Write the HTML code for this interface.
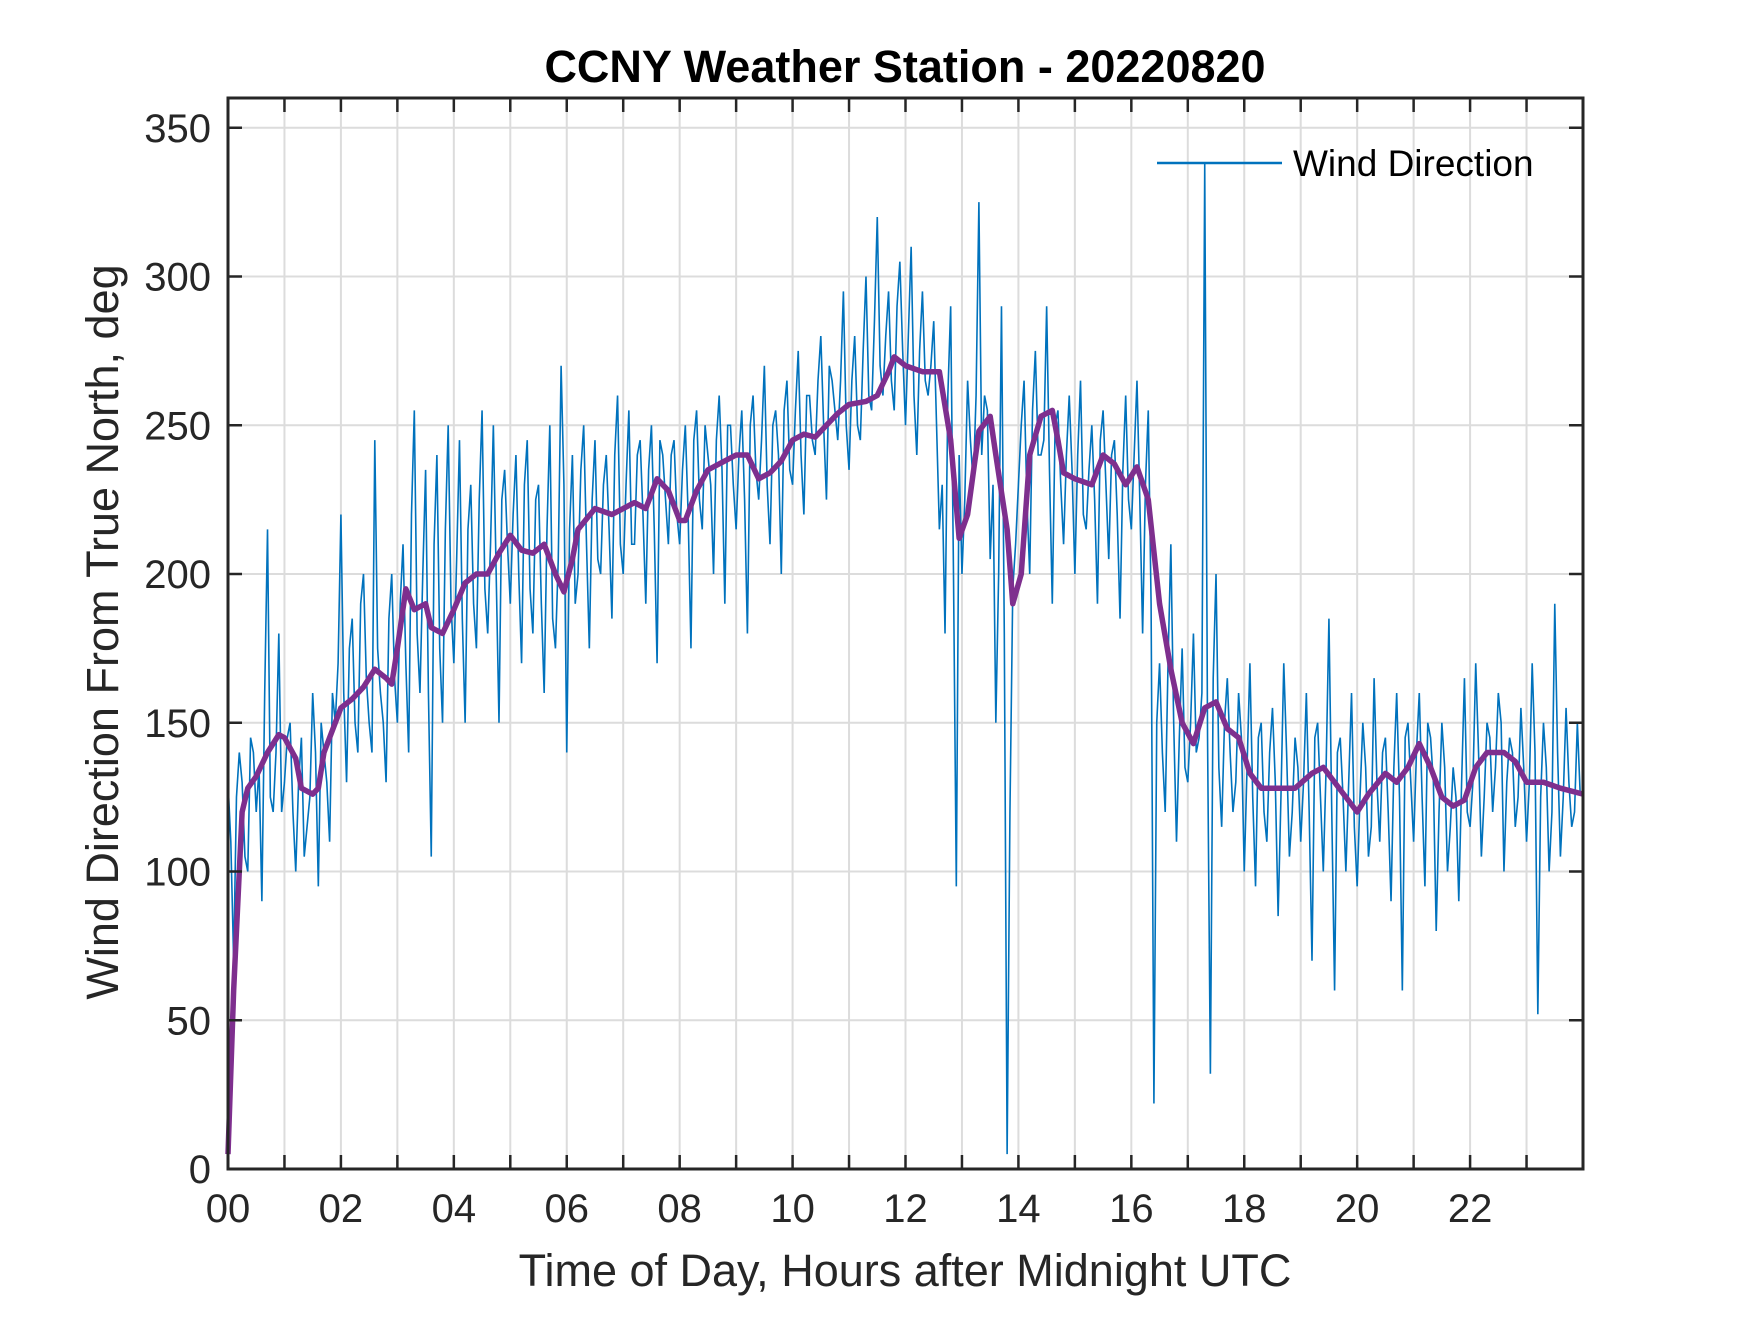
<!DOCTYPE html>
<html><head><meta charset="utf-8"><style>
body{margin:0;background:#fff}
svg text{font-family:"Liberation Sans",Arial,sans-serif;fill:#262626}
</style></head><body>
<svg id="chart" width="1750" height="1313" viewBox="0 0 1750 1313" xmlns="http://www.w3.org/2000/svg">
<rect width="1750" height="1313" fill="#fff"/>
<g id="grid"></g><g id="series"></g><g id="axes"></g>
<text x="905" y="82" text-anchor="middle" font-size="45" font-weight="bold" style="fill:#000">CCNY Weather Station - 20220820</text>
<text x="905" y="1286" text-anchor="middle" font-size="45">Time of Day, Hours after Midnight UTC</text>
<text transform="translate(118,632) rotate(-90)" text-anchor="middle" font-size="45">Wind Direction From True North, deg</text>
<g>
<line x1="1157" y1="163" x2="1282" y2="163" stroke="#0072bd" stroke-width="2.5"/>
<text x="1293" y="176" font-size="37" style="fill:#000">Wind Direction</text>
</g>
</svg>
<script>
const xTicks=[0,2,4,6,8,10,12,14,16,18,20,22];
const xTickLabels=["00","02","04","06","08","10","12","14","16","18","20","22"];
const yTicks=[0,50,100,150,200,250,300,350];
const rawStep=0.1;
const rawValues=[
130,70,140,105,145,120,90,215,120,180,
130,150,100,145,115,160,95,140,110,150,
220,130,185,140,200,150,245,160,130,200,
150,210,140,255,160,235,105,240,150,250,
170,245,150,230,175,255,180,250,150,235,
190,240,170,245,180,230,160,250,175,270,
140,240,200,250,175,245,200,240,185,260,
200,255,210,245,190,250,170,240,210,245,
210,250,175,255,215,240,200,260,190,250,
215,255,180,260,225,270,210,255,200,265,
230,275,220,260,240,280,225,265,245,295,
235,280,245,300,255,320,260,295,255,305,
250,310,240,295,260,285,215,180,290,95,
200,265,230,325,260,205,150,290,5,195,
230,265,200,275,240,290,190,255,210,260,
200,265,215,250,190,255,205,245,185,260,
215,265,180,255,22,170,120,210,110,175,
130,180,145,338,32,200,115,165,120,160,
100,170,95,150,110,155,85,170,105,145,
110,160,70,150,100,185,60,145,100,160,
95,150,105,165,110,145,90,160,60,150,
110,160,95,145,80,150,100,135,90,165,
115,170,105,150,120,160,100,145,115,155,
110,170,52,150,100,190,105,155,115,150];
const rawValuesMid=[
110,125,130,100,140,135,160,125,140,120,
145,120,130,105,125,140,150,130,160,170,
160,175,150,190,165,140,175,150,185,165,
190,170,220,180,200,160,210,175,215,190,
205,185,215,190,225,195,210,200,225,210,
220,200,230,195,225,190,215,185,205,230,
215,190,235,210,225,205,230,215,240,210,
230,210,240,220,235,215,245,225,240,220,
235,220,245,225,250,230,245,235,250,230,
240,225,250,235,245,230,250,240,255,235,
255,240,260,245,265,250,270,255,265,250,
265,250,275,260,285,270,280,265,290,275,
280,260,275,265,270,250,230,260,200,240,
225,245,260,240,255,230,200,180,120,210,
250,225,255,240,245,235,250,230,240,235,
240,220,235,225,245,230,240,220,235,225,
240,225,230,190,150,140,170,150,145,135,
150,140,160,145,165,135,150,140,130,145,
135,125,145,120,140,130,125,140,120,135,
130,120,145,125,135,120,140,125,130,115,
125,135,115,130,140,120,135,125,145,130,
140,125,150,130,120,135,115,125,130,120,
130,140,125,145,135,150,130,140,125,135,
130,140,125,135,120,140,125,130,120,126];
const smoothHours=[0,0.1,0.25,0.35,0.5,0.7,0.9,1.0,1.2,1.3,1.5,1.6,1.7,1.9,2.0,2.2,2.4,2.6,2.8,2.9,3.0,3.15,3.3,3.5,3.6,3.8,4.0,4.2,4.4,4.6,4.8,5.0,5.2,5.4,5.6,5.8,5.95,6.1,6.2,6.5,6.8,7.0,7.2,7.4,7.6,7.8,8.0,8.1,8.3,8.5,8.8,9.0,9.2,9.4,9.6,9.8,10.0,10.2,10.4,10.6,10.8,11.0,11.3,11.5,11.7,11.8,12.0,12.3,12.6,12.8,12.95,13.1,13.3,13.5,13.6,13.8,13.9,14.05,14.2,14.4,14.6,14.7,14.8,15.0,15.3,15.5,15.7,15.9,16.1,16.3,16.5,16.7,16.9,17.1,17.3,17.5,17.7,17.9,18.1,18.3,18.6,18.9,19.2,19.4,19.6,19.8,20.0,20.2,20.5,20.7,20.9,21.1,21.3,21.5,21.7,21.9,22.1,22.3,22.6,22.8,23.0,23.3,23.6,24];
const smoothValues=[5,60,120,128,132,140,146,145,138,128,126,128,140,150,155,158,162,168,165,163,175,195,188,190,182,180,188,197,200,200,207,213,208,207,210,200,194,205,215,222,220,222,224,222,232,228,218,218,228,235,238,240,240,232,234,238,245,247,246,250,254,257,258,260,268,273,270,268,268,245,212,220,248,253,240,215,190,200,240,253,255,245,234,232,230,240,237,230,236,225,190,168,150,143,155,157,148,145,133,128,128,128,133,135,130,125,120,126,133,130,135,143,135,125,122,124,135,140,140,137,130,130,128,126];

const L=228,R=1583,T=98,B=1169;
const xs=h=>L+h/24*(R-L);
const ys=v=>B-v/360*(B-T);
const NS="http://www.w3.org/2000/svg";
function mk(tag,parent,attrs){const e=document.createElementNS(NS,tag);for(const k in attrs)e.setAttribute(k,attrs[k]);parent.appendChild(e);return e;}
const grid=document.getElementById('grid'),axes=document.getElementById('axes'),series=document.getElementById('series');
for(let h=1;h<24;h++){
  const g=mk('line',grid,{x1:xs(h),x2:xs(h),y1:T,y2:B,stroke:'#dcdcdc','stroke-width':2});
  
  
  const t1=mk('line',axes,{x1:xs(h),x2:xs(h),y1:B,y2:B-14,stroke:'#262626','stroke-width':2.5});
  
  
  const t2=mk('line',axes,{x1:xs(h),x2:xs(h),y1:T,y2:T+14,stroke:'#262626','stroke-width':2.5});
  
  
}
xTicks.forEach((h,i)=>{
  const t=mk('text',axes,{x:xs(h),y:B+53,'text-anchor':'middle','font-size':40});
  t.textContent=xTickLabels[i];
  
  
});
yTicks.forEach(v=>{
  if(v>0){const g=mk('line',grid,{x1:L,x2:R,y1:ys(v),y2:ys(v),stroke:'#dcdcdc','stroke-width':2});
  
  }
  const a=mk('line',axes,{x1:L,x2:L+14,y1:ys(v),y2:ys(v),stroke:'#262626','stroke-width':2.5});
  
  
  const b=mk('line',axes,{x1:R,x2:R-14,y1:ys(v),y2:ys(v),stroke:'#262626','stroke-width':2.5});
  
  
  const t=mk('text',axes,{x:L-17,y:ys(v)+14,'text-anchor':'end','font-size':40});
  t.textContent=v;
  
  
});
const box=mk('rect',axes,{x:L,y:T,width:R-L,height:B-T,fill:'none',stroke:'#262626','stroke-width':3});


const rawPtsArr=[];
rawValues.forEach((v,i)=>{
  rawPtsArr.push(xs(i*rawStep)+','+ys(v));
  rawPtsArr.push(xs(i*rawStep+rawStep/2)+','+ys(rawValuesMid[i]));
});
const raw=mk('polyline',series,{points:rawPtsArr.join(' '),fill:'none',stroke:'#0072bd','stroke-width':1.6});


const smPts=smoothValues.map((v,i)=>xs(smoothHours[i])+','+ys(v)).join(' ');
const sm=mk('polyline',series,{points:smPts,fill:'none',stroke:'#7e2f8e','stroke-width':5.5,'stroke-linejoin':'round'});


</script>
</body></html>
